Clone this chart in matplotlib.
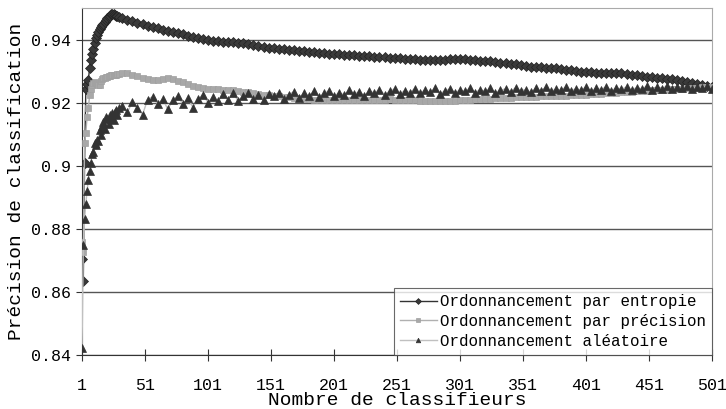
import matplotlib
matplotlib.use("Agg")
import matplotlib.pyplot as plt

# x positions: each classifier up to 30, then every 4th one up to 501
x_vals = list(range(1, 31)) + list(range(33, 502, 4))

entropie = [
    # 1..30
    0.8705, 0.8636, 0.9008, 0.9243, 0.9258, 0.9272, 0.9310, 0.9335, 0.9355, 0.9372,
    0.9390, 0.9405, 0.9415, 0.9425, 0.9433, 0.9440, 0.9446, 0.9451, 0.9457, 0.9463,
    0.9468, 0.9472, 0.9476, 0.9480, 0.9483, 0.9481, 0.9478, 0.9476, 0.9474, 0.9472,
    # 33..501 step 4
    0.9468, 0.9463, 0.9458, 0.9453, 0.9449, 0.9445, 0.9441, 0.9436, 0.9432, 0.9428,
    0.9424, 0.9420, 0.9417, 0.9413, 0.9409, 0.9405, 0.9402, 0.9399, 0.9397, 0.9396,
    0.9394, 0.9393, 0.9392, 0.9390, 0.9388, 0.9386, 0.9384, 0.9380, 0.9377, 0.9375,
    0.9373, 0.9372, 0.9370, 0.9368, 0.9367, 0.9365, 0.9364, 0.9362, 0.9360, 0.9359,
    0.9357, 0.9356, 0.9355, 0.9355, 0.9353, 0.9351, 0.9350, 0.9349, 0.9348, 0.9347,
    0.9346, 0.9345, 0.9344, 0.9343, 0.9342, 0.9341, 0.9340, 0.9339, 0.9338, 0.9337,
    0.9336, 0.9336, 0.9335, 0.9335, 0.9336, 0.9338, 0.9339, 0.9339, 0.9338, 0.9337,
    0.9336, 0.9334, 0.9332, 0.9331, 0.9329, 0.9327, 0.9326, 0.9324, 0.9322, 0.9320,
    0.9317, 0.9315, 0.9314, 0.9313, 0.9311, 0.9310, 0.9309, 0.9307, 0.9305, 0.9303,
    0.9301, 0.9299, 0.9298, 0.9297, 0.9296, 0.9296, 0.9295, 0.9295, 0.9294, 0.9293,
    0.9291, 0.9289, 0.9287, 0.9285, 0.9283, 0.9282, 0.9280, 0.9278, 0.9276, 0.9274,
    0.9272, 0.9269, 0.9266, 0.9263, 0.9260, 0.9257, 0.9254, 0.9250,
]

precision = [
    0.8759, 0.8727, 0.9072, 0.9104, 0.9155, 0.9182, 0.9224, 0.9245, 0.9255, 0.9262,
    0.9267, 0.9262, 0.9258, 0.9256, 0.9256, 0.9268, 0.9275, 0.9277, 0.9280, 0.9282,
    0.9283, 0.9285, 0.9286, 0.9287, 0.9288, 0.9289, 0.9288, 0.9288, 0.9290, 0.9292,
    0.9295, 0.9293, 0.9289, 0.9285, 0.9280, 0.9276, 0.9273, 0.9272, 0.9275, 0.9277,
    0.9274, 0.9269, 0.9265, 0.9259, 0.9253, 0.9249, 0.9246, 0.9245, 0.9244, 0.9243,
    0.9241, 0.9240, 0.9239, 0.9237, 0.9235, 0.9233, 0.9230, 0.9228, 0.9226, 0.9225,
    0.9223, 0.9221, 0.9219, 0.9217, 0.9215, 0.9214, 0.9212, 0.9211, 0.9210, 0.9209,
    0.9208, 0.9208, 0.9209, 0.9209, 0.9208, 0.9208, 0.9209, 0.9210, 0.9210, 0.9209,
    0.9209, 0.9210, 0.9210, 0.9211, 0.9210, 0.9209, 0.9209, 0.9208, 0.9208, 0.9207,
    0.9207, 0.9207, 0.9206, 0.9206, 0.9206, 0.9207, 0.9207, 0.9208, 0.9209, 0.9210,
    0.9211, 0.9212, 0.9213, 0.9213, 0.9214, 0.9215, 0.9216, 0.9216, 0.9217, 0.9218,
    0.9218, 0.9219, 0.9219, 0.9220, 0.9221, 0.9221, 0.9222, 0.9222, 0.9223, 0.9224,
    0.9224, 0.9225, 0.9226, 0.9227, 0.9228, 0.9229, 0.9230, 0.9231, 0.9232, 0.9233,
    0.9234, 0.9235, 0.9236, 0.9237, 0.9238, 0.9239, 0.9240, 0.9241, 0.9242, 0.9243,
    0.9244, 0.9245, 0.9246, 0.9247, 0.9248, 0.9249, 0.9250, 0.9251,
]

aleatoire = [
    0.8422, 0.8749, 0.8831, 0.8880, 0.8921, 0.8955, 0.8985, 0.9008, 0.9039, 0.9044,
    0.9071, 0.9065, 0.9082, 0.9078, 0.9113, 0.9098, 0.9125, 0.9140, 0.9118, 0.9155,
    0.9148, 0.9132, 0.9160, 0.9150, 0.9168, 0.9145, 0.9172, 0.9177, 0.9160, 0.9182,
    0.9190, 0.9170, 0.9203, 0.9185, 0.9162, 0.9210, 0.9219, 0.9195, 0.9212, 0.9180,
    0.9208, 0.9222, 0.9195, 0.9215, 0.9185, 0.9212, 0.9225, 0.9200, 0.9219, 0.9205,
    0.9228, 0.9210, 0.9230, 0.9205, 0.9222, 0.9232, 0.9212, 0.9225, 0.9208, 0.9228,
    0.9220, 0.9232, 0.9212, 0.9226, 0.9235, 0.9215, 0.9230, 0.9222, 0.9236, 0.9218,
    0.9230, 0.9238, 0.9220, 0.9232, 0.9225, 0.9240, 0.9228, 0.9235, 0.9222, 0.9238,
    0.9230, 0.9242, 0.9226, 0.9236, 0.9244, 0.9228, 0.9238, 0.9232, 0.9245, 0.9230,
    0.9240, 0.9233, 0.9246, 0.9228, 0.9238, 0.9244, 0.9232, 0.9240, 0.9236, 0.9247,
    0.9232, 0.9242, 0.9236, 0.9246, 0.9230, 0.9240, 0.9244, 0.9234, 0.9248, 0.9238,
    0.9242, 0.9233, 0.9246, 0.9238, 0.9249, 0.9236, 0.9243, 0.9240, 0.9250, 0.9237,
    0.9245, 0.9240, 0.9250, 0.9236, 0.9246, 0.9242, 0.9251, 0.9238, 0.9247, 0.9243,
    0.9250, 0.9240, 0.9248, 0.9244, 0.9252, 0.9241, 0.9249, 0.9245, 0.9253, 0.9243,
    0.9249, 0.9246, 0.9252, 0.9244, 0.9250, 0.9247, 0.9253, 0.9245,
]

labels = ["Ordonnancement par entropie",
          "Ordonnancement par précision",
          "Ordonnancement aléatoire"]
x_ticks = list(range(1, 502, 50))
y_ticks = [0.84, 0.86, 0.88, 0.9, 0.92, 0.94]
y_ticklabels = ["0.84", "0.86", "0.88", "0.9", "0.92", "0.94"]

plt.rcParams['font.family'] = ['Liberation Mono', 'DejaVu Sans']

fig = plt.figure(figsize=(7.26, 4.09), dpi=100)
ax = fig.add_axes([0.113, 0.132, 0.868, 0.848])

ax.plot(x_vals, entropie, color='#333333', lw=1, marker='D', ms=5,
        mfc='#3a3a3a', mec='#222222', mew=0.5, label=labels[0], zorder=3)
ax.plot(x_vals, precision, color='#b0b0b0', lw=1, marker='s', ms=5,
        mfc='#a8a8a8', mec='#a0a0a0', mew=0.5, label=labels[1], zorder=4)
ax.plot(x_vals, aleatoire, color='#c0c0c0', lw=1, marker='^', ms=5.5,
        mfc='#333333', mec='#333333', mew=0.5, label=labels[2], zorder=5)

ax.set_xlim(1, 501)
ax.set_ylim(0.84, 0.95)
ax.set_xticks(x_ticks)
ax.set_yticks(y_ticks)
ax.set_yticklabels(y_ticklabels)
ax.tick_params(axis='x', direction='inout', length=9, width=0.8, color='#333333',
               labelsize=12, pad=12)
ax.tick_params(axis='y', direction='out', length=4, width=0.8, color='#333333',
               labelsize=12, pad=4)
ax.yaxis.grid(True, color='#555555', lw=1)
ax.set_axisbelow(True)

for side in ['top', 'right']:
    ax.spines[side].set_color('#aaaaaa')
for side in ['left', 'bottom']:
    ax.spines[side].set_color('#333333')

ax.set_xlabel("Nombre de classifieurs", fontsize=14, labelpad=-1)
ax.set_ylabel("Précision de classification", fontsize=14, labelpad=4)

leg = ax.legend(loc='lower right', fontsize=11.4, frameon=True, fancybox=False,
                edgecolor='#444444', handlelength=2.3, handletextpad=0.2,
                labelspacing=0.3, borderaxespad=0, borderpad=0.4, markerscale=0.6)
leg.get_frame().set_linewidth(0.8)
leg.set_zorder(10)

fig.savefig("out.png", dpi=100)
